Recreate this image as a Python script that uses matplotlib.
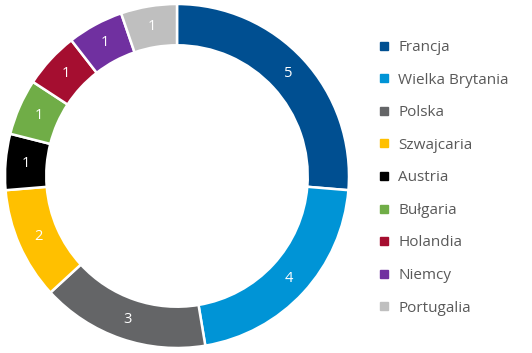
import matplotlib.pyplot as plt
from matplotlib.lines import Line2D

countries = ['Francja', 'Wielka Brytania', 'Polska', 'Szwajcaria', 'Austria',
             'Bułgaria', 'Holandia', 'Niemcy', 'Portugalia']
counts = [5, 4, 3, 2, 1, 1, 1, 1, 1]
colors = ['#004F91', '#0094D6', '#646567', '#FFC000', '#000000',
          '#70AD47', '#A50E30', '#7030A0', '#BFBFBF']

plt.rcParams['font.family'] = ['Open Sans', 'DejaVu Sans']

fig = plt.figure(figsize=(5.32, 3.53), dpi=100)
# donut axes: center ~ (177,176) px, outer radius ~172 px
ax = fig.add_axes([5 / 532, 5 / 353, 344 / 532, 344 / 353])

ring = 0.24
wedges, texts = ax.pie(counts, colors=colors, startangle=90, counterclock=False,
                       radius=1, wedgeprops=dict(width=ring, edgecolor='white', linewidth=1.8),
                       labels=[str(c) for c in counts], labeldistance=1 - ring / 2)
for t in texts:
    t.set_color('white')
    t.set_fontsize(10.5)
    t.set_ha('center')
    t.set_va('center')
ax.set_xlim(-1, 1)
ax.set_ylim(-1, 1)
ax.set_aspect('equal')
ax.axis('off')

handles = [Line2D([], [], marker='s', linestyle='none', markersize=6,
                  markerfacecolor=c, markeredgecolor=c) for c in colors]
leg = fig.legend(handles, countries, loc='upper left', bbox_to_anchor=(379 / 532, 1 - 40 / 353),
                 frameon=False, fontsize=11, labelspacing=1.15, handlelength=0.7,
                 handletextpad=0.55, borderaxespad=0, borderpad=0)
for t in leg.get_texts():
    t.set_color('#595959')

fig.savefig('out.png', dpi=100)
